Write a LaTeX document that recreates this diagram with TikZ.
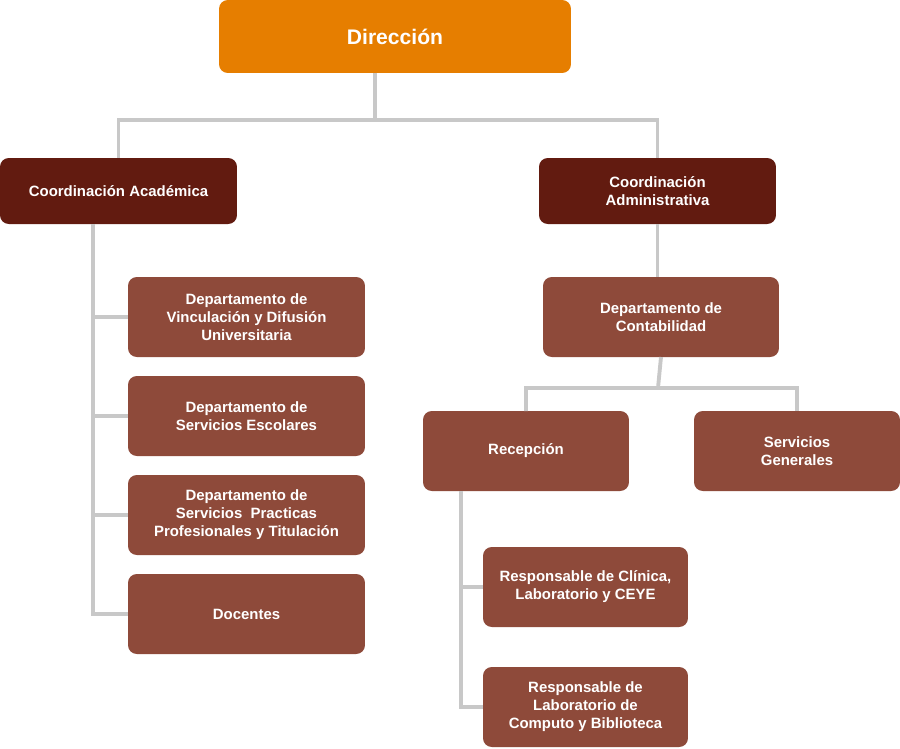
\documentclass[tikz,border=0pt]{standalone}
\usepackage{fontspec}
\setmainfont{Liberation Sans}
\usetikzlibrary{positioning}
\definecolor{orangeBox}{HTML}{E67E00}
\definecolor{darkBox}{HTML}{621B10}
\definecolor{midBox}{HTML}{8E4A3A}
\definecolor{lineGray}{HTML}{C8C8C8}
\tikzset{
	box/.style={rounded corners=5pt,minimum height=1.6cm,text=white,align=center,
		font=\fontsize{8.5}{10.3}\selectfont\bfseries,outer sep=0pt,inner sep=2pt},
	dept/.style={box,fill=midBox,minimum width=4.74cm},
	coord/.style={box,fill=darkBox,minimum width=4.74cm,minimum height=1.32cm},
	link/.style={draw=lineGray,line width=2.2pt}
}
\begin{document}
\begin{tikzpicture}[x=0.02cm,y=-0.02cm]
	\useasboundingbox (0,0) rectangle (900,748);
	\node [box,fill=orangeBox,minimum width=7.04cm,minimum height=1.46cm,font=\fontsize{12}{14}\selectfont\bfseries] at (395,36.5) (dir) {Dirección};

	\node [coord] at (118.5,191) (acad) {Coordinación Académica};
	\node [coord] at (657.5,191) (admin) {Coordinación\\Administrativa};

	\node [dept] at (246.5,317) (vinc) {Departamento de\\Vinculación y Difusión\\Universitaria};
	\node [dept] at (246.5,416) (escol) {Departamento de\\Servicios Escolares};
	\node [dept] at (246.5,515) (pract) {Departamento de\\Servicios\ \ Practicas\\Profesionales y Titulación};
	\node [dept] at (246.5,614) (doc) {Docentes};

	\node [dept,minimum width=4.72cm] at (661,317) (cont) {Departamento de\\Contabilidad};
	\node [dept,minimum width=4.12cm] at (526,451) (recep) {Recepción};
	\node [dept,minimum width=4.12cm] at (797,451) (serv) {Servicios\\Generales};
	\node [dept,minimum width=4.1cm] at (585.5,587) (clin) {Responsable de Clínica,\\Laboratorio y CEYE};
	\node [dept,minimum width=4.1cm] at (585.5,707) (comp) {Responsable de\\Laboratorio de\\Computo y Biblioteca};

	% connectors
	\coordinate (top) at (375,120);
	\coordinate (mid) at (658,388);
	\begin{scope}[on background layer/.try]
	\draw[link] (dir.south -| top) -- (top) -| (acad.north);
	\draw[link] (top) -| (admin.north);
	\draw[link] (admin.south) -- (admin.south |- cont.north);
	\draw[link] (cont.south) -- (mid) -| (recep.north);
	\draw[link] (mid) -| (serv.north);
	\draw[link] (93,224) |- (doc.west);
	\foreach \n in {vinc,escol,pract}
		\draw[link] (93,0 |- \n.west) -- (\n.west);
	\draw[link] (461,491) |- (comp.west);
	\draw[link] (461,0 |- clin.west) -- (clin.west);
	\end{scope}
\end{tikzpicture}
\end{document}
